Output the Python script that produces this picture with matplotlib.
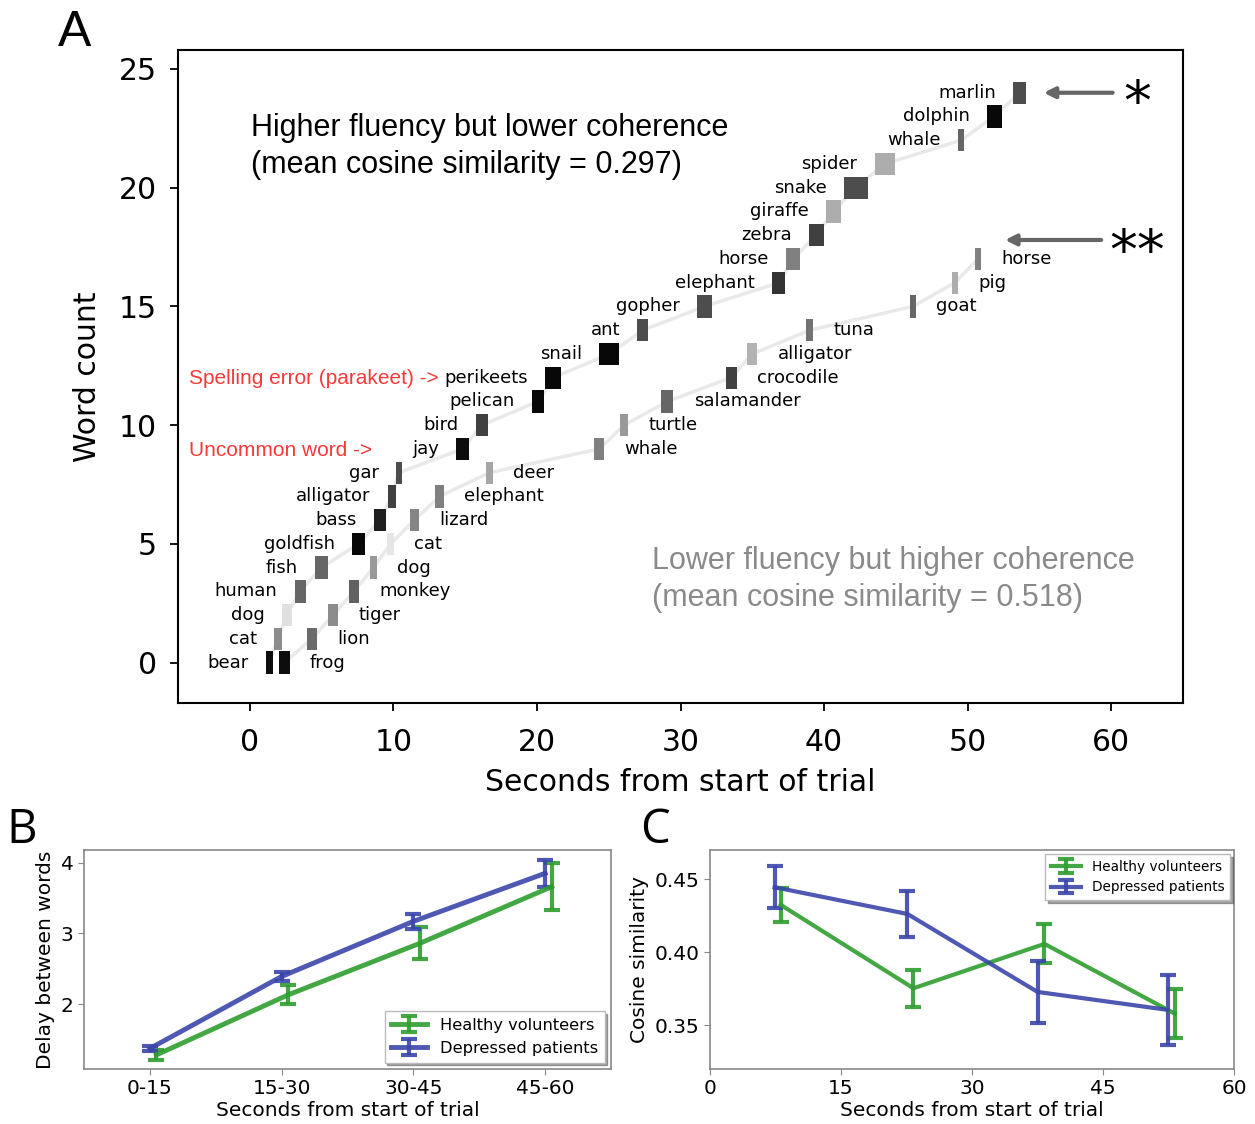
import numpy as np
import matplotlib.pyplot as plt

# --- panel A: lista con mayor fluidez (etiquetas a la izquierda)
palabras1 = ['bear', 'cat', 'dog', 'human', 'fish', 'goldfish', 'bass', 'alligator', 'gar',
             'jay', 'bird', 'pelican', 'perikeets', 'snail', 'ant', 'gopher', 'elephant',
             'horse', 'zebra', 'giraffe', 'snake', 'spider', 'whale', 'dolphin', 'marlin']
t1 = [1.10, 1.67, 2.23, 3.12, 4.53, 7.12, 8.65, 9.61, 10.17, 14.37, 15.75, 19.67, 20.58,
      24.35, 27.00, 31.14, 36.40, 37.37, 38.93, 40.10, 41.37, 43.53, 49.30, 51.33, 53.16]
dur1 = [0.50, 0.58, 0.68, 0.77, 0.91, 0.90, 0.82, 0.56, 0.41, 0.91, 0.81, 0.84, 1.12,
        1.39, 0.77, 1.07, 0.90, 0.93, 1.05, 1.06, 1.66, 1.40, 0.47, 1.04, 0.91]
gris1 = [0.05, 0.55, 0.88, 0.40, 0.40, 0.03, 0.12, 0.25, 0.30, 0.05, 0.25, 0.03, 0.03,
         0.03, 0.30, 0.30, 0.20, 0.50, 0.25, 0.68, 0.30, 0.68, 0.40, 0.03, 0.30]

# --- panel A: lista con mayor coherencia (etiquetas a la derecha)
palabras2 = ['frog', 'lion', 'tiger', 'monkey', 'dog', 'cat', 'lizard', 'elephant', 'deer',
             'whale', 'turtle', 'salamander', 'crocodile', 'alligator', 'tuna', 'goat', 'pig', 'horse']
t2 = [2.02, 3.98, 5.44, 6.91, 8.37, 9.56, 11.14, 12.91, 16.44, 24.00, 25.79, 28.65,
      33.14, 34.65, 38.77, 45.98, 48.88, 50.51]
dur2 = [0.75, 0.69, 0.70, 0.69, 0.49, 0.49, 0.65, 0.62, 0.51, 0.70, 0.58, 0.86,
        0.77, 0.70, 0.46, 0.42, 0.47, 0.42]
gris2 = [0.05, 0.42, 0.55, 0.38, 0.60, 0.90, 0.52, 0.50, 0.65, 0.50, 0.60, 0.40,
         0.25, 0.70, 0.45, 0.40, 0.68, 0.50]

# --- panel B
bins = ['0-15', '15-30', '30-45', '45-60']
delay_sanos = [1.28, 2.13, 2.86, 3.66]
delay_sanos_err = [0.07, 0.135, 0.225, 0.33]
delay_dep = [1.37, 2.39, 3.17, 3.85]
delay_dep_err = [0.03, 0.06, 0.11, 0.19]

# --- panel C
x_sanos = [8.1, 23.3, 38.3, 53.2]
cos_sanos = [0.4324, 0.3753, 0.4057, 0.358]
cos_sanos_err = [0.0114, 0.0125, 0.0134, 0.0165]
x_dep = [7.4, 22.6, 37.5, 52.4]
cos_dep = [0.4445, 0.4262, 0.3728, 0.3605]
cos_dep_err = [0.0145, 0.016, 0.021, 0.024]

verde = '#2e9e2e'
azul = '#3c46aa'

W, H = 1255, 1124
fig = plt.figure(figsize=(W / 100, H / 100), dpi=100)

# ---------------- A ----------------
axA = fig.add_axes([178 / W, 1 - 703 / H, (1183 - 178) / W, (703 - 50) / H])
alto = 0.94
for t, dur, gris in [(t1, dur1, gris1), (t2, dur2, gris2)]:
    t = np.array(t)
    dur = np.array(dur)
    n = np.arange(len(t))
    axA.plot(t + dur / 2, n, color='#e9e9e9', lw=2.5, zorder=1, solid_capstyle='round')
    axA.bar(t, alto, width=dur, bottom=n - alto / 2, align='edge',
            color=[str(g) for g in gris], zorder=2)

for i, w in enumerate(palabras1):
    axA.text(t1[i] - 1.2, i, w, ha='right', va='center', fontsize=13)
for i, w in enumerate(palabras2):
    axA.text(t2[i] + dur2[i] + 1.4, i, w, ha='left', va='center', fontsize=13)

axA.text(0.1, 23.15, 'Higher fluency but lower coherence\n(mean cosine similarity = 0.297)',
         fontsize=22, family='Liberation Sans', va='top', linespacing=1.3)
axA.text(28.0, 4.9, 'Lower fluency but higher coherence\n(mean cosine similarity = 0.518)',
         fontsize=22, family='Liberation Sans', va='top', linespacing=1.3, color='#8a8a8a')
axA.text(-4.25, 11.95, 'Spelling error (parakeet) ->', color='#f53a3a', fontsize=15,
         family='Liberation Sans', va='center')
axA.text(-4.25, 8.95, 'Uncommon word ->', color='#f53a3a', fontsize=15,
         family='Liberation Sans', va='center')

# flechas y asteriscos
flecha = dict(arrowstyle='-|>', color='#666666', lw=3, mutation_scale=16, shrinkA=0, shrinkB=0)
axA.annotate('', xy=(55.3, 24), xytext=(60.1, 24), arrowprops=flecha)
axA.annotate('', xy=(52.6, 17.8), xytext=(59.3, 17.8), arrowprops=flecha)
axA.text(61.8, 23.5, '*', fontsize=40, ha='center', va='center')
axA.text(61.8, 17.2, '**', fontsize=40, ha='center', va='center')

axA.set_xlim(-5, 65)
axA.set_ylim(-1.7, 25.8)
axA.set_xticks(range(0, 61, 10))
axA.set_yticks(range(0, 26, 5))
axA.tick_params(labelsize=21.5, length=6, width=1.3)
axA.tick_params(axis='x', pad=12)
axA.tick_params(axis='y', pad=9)
for s in axA.spines.values():
    s.set_linewidth(1.5)
axA.set_xlabel('Seconds from start of trial', fontsize=21.5, labelpad=8)
axA.set_ylabel('Word count', fontsize=21.5, labelpad=12)

# ---------------- B ----------------
axB = fig.add_axes([84 / W, 1 - 1069 / H, 527 / W, 219 / H])
xb = np.arange(len(bins))
estilo = dict(lw=3.5, elinewidth=3, capsize=6, capthick=3, alpha=0.9)
axB.errorbar(xb + 0.05, delay_sanos, yerr=delay_sanos_err, color=verde,
             label='Healthy volunteers', **estilo)
axB.errorbar(xb, delay_dep, yerr=delay_dep_err, color=azul,
             label='Depressed patients', **estilo)
axB.set_xticks(xb)
axB.set_xticklabels(bins)
axB.set_xlim(-0.5, 3.5)
axB.set_ylim(1.08, 4.18)
axB.set_yticks([2, 3, 4])
axB.set_xlabel('Seconds from start of trial', fontsize=14.5, labelpad=2)
axB.set_ylabel('Delay between words', fontsize=14.5)
axB.legend(loc='lower right', fontsize=11.7, shadow=True, fancybox=False,
           edgecolor='#bbbbbb', handlelength=2.2, borderaxespad=0.4)

# ---------------- C ----------------
axC = fig.add_axes([710 / W, 1 - 1069 / H, 524 / W, 219 / H])
estilo = dict(lw=3, elinewidth=3, capsize=6, capthick=3, alpha=0.9)
axC.errorbar(x_sanos, cos_sanos, yerr=cos_sanos_err, color=verde,
             label='Healthy volunteers', **estilo)
axC.errorbar(x_dep, cos_dep, yerr=cos_dep_err, color=azul,
             label='Depressed patients', **estilo)
axC.set_xlim(0, 60)
axC.set_ylim(0.32, 0.47)
axC.set_xticks([0, 15, 30, 45, 60])
axC.set_yticks([0.35, 0.40, 0.45])
axC.set_yticklabels(['0.35', '0.40', '0.45'])
axC.set_xlabel('Seconds from start of trial', fontsize=14.5, labelpad=2)
axC.set_ylabel('Cosine similarity', fontsize=14.5)
axC.legend(loc='upper right', fontsize=9.8, shadow=True, fancybox=False,
           edgecolor='#bbbbbb', handlelength=2.2, borderaxespad=0.3)

for ax in [axB, axC]:
    for s in ax.spines.values():
        s.set_color('#888888')
        s.set_linewidth(1.2)
    ax.tick_params(labelsize=14.5, length=4, color='#888888')

# letras de panel
fig.text(75 / W, 1 - 33 / H, 'A', fontsize=36, family='Liberation Sans', ha='center', va='center')
fig.text(22 / W, 1 - 830 / H, 'B', fontsize=34, family='Open Sans', ha='center', va='center')
fig.text(655 / W, 1 - 830 / H, 'C', fontsize=34, family='Open Sans', ha='center', va='center')

fig.savefig('out.png', dpi=100)
